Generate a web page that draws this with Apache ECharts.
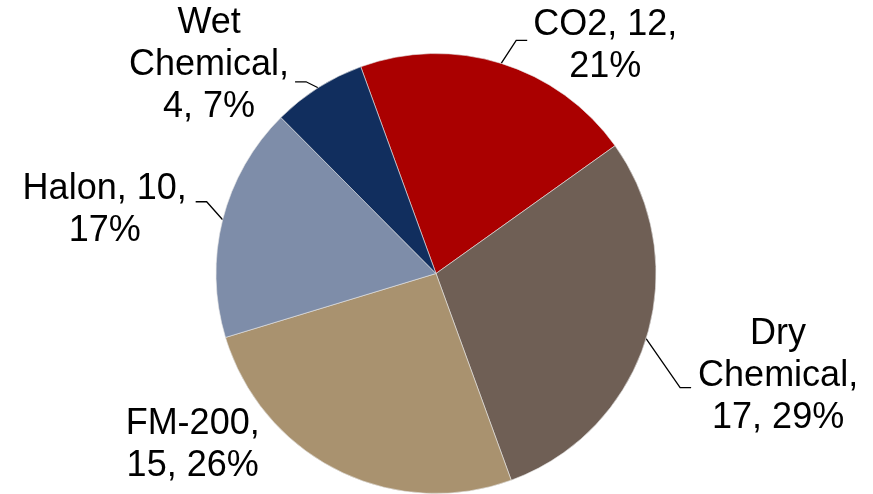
<!DOCTYPE html>
<html><head><meta charset="utf-8">
<script src="https://cdn.jsdelivr.net/npm/echarts@6/dist/echarts.min.js"></script>
<style>html,body{margin:0;padding:0;background:#fff}#chart{width:873px;height:494px}</style>
</head><body><div id="chart"></div>
<script>
// ---- data ----
const categories = ['CO2', 'Dry Chemical', 'FM-200', 'Halon', 'Wet Chemical'];
const values = [12, 17, 15, 10, 4];
const colors = ['#AA0000', '#6F5F55', '#A9926F', '#7E8DA9', '#112E5E'];

// ---- label placement (relative to the slice anchor point computed by ECharts) ----
const labelOffsets = [[104, -17], [132, 37], [-145, -25], [-118, -10], [-109, -23]];
const lineEnds = [[26, -23], [45, 49], null, [-27, -18], [-23, -6]];

const FONT = '"Liberation Sans", Arial, sans-serif';
const FS = 36;
const ctx = document.createElement('canvas').getContext('2d');
ctx.font = FS + 'px ' + FONT;
function wrap(text, maxW) {
  const words = text.split(' ');
  const lines = [];
  let cur = '';
  words.forEach(w => {
    const t = cur ? cur + ' ' + w : w;
    if (cur && ctx.measureText(t).width > maxW) { lines.push(cur); cur = w; }
    else cur = t;
  });
  if (cur) lines.push(cur);
  return lines;
}
const total = values.reduce((a, b) => a + b, 0);

const chart = echarts.init(document.getElementById('chart'), null, { renderer: 'canvas' });
chart.setOption({
  animation: false,
  backgroundColor: '#ffffff',
  color: colors,
  series: [{
    type: 'pie',
    center: [436, 273.5],
    radius: 220,
    startAngle: 110,
    clockwise: true,
    avoidLabelOverlap: false,
    emphasis: { disabled: true },
    itemStyle: { borderColor: '#e6e6e6', borderWidth: 0.6 },
    label: {
      show: true,
      position: 'outside',
      color: '#000',
      fontFamily: FONT,
      fontSize: FS,
      lineHeight: 42,
      formatter: function (p) {
        const pct = Math.round(p.value / total * 100);
        return wrap(p.name + ', ' + p.value + ', ' + pct + '%', 172)
          .map(l => '{c|' + l + '}').join('\n');
      },
      rich: {
        c: { align: 'center', color: '#000', fontFamily: FONT, fontSize: FS, lineHeight: 42 }
      }
    },
    labelLine: { show: true, length: 10, length2: 11, lineStyle: { color: '#000', width: 1.3 } },
    labelLayout: function (params) {
      const i = params.dataIndex;
      const pts = params.labelLinePoints;
      if (!pts) return {};
      const P = pts[0];
      const off = labelOffsets[i];
      const res = { x: P[0] + off[0], y: P[1] + off[1], align: 'center', verticalAlign: 'middle' };
      const e = lineEnds[i];
      if (e) {
        const s = e[0] > 0 ? 1 : -1;
        const end = [P[0] + e[0], P[1] + e[1]];
        res.labelLinePoints = [P.slice(), [end[0] - s * 11, end[1]], end];
      } else {
        res.labelLinePoints = [P.slice(), P.slice(), P.slice()];
      }
      return res;
    },
    data: categories.map((c, i) => ({ name: c, value: values[i] }))
  }]
});
</script></body></html>
